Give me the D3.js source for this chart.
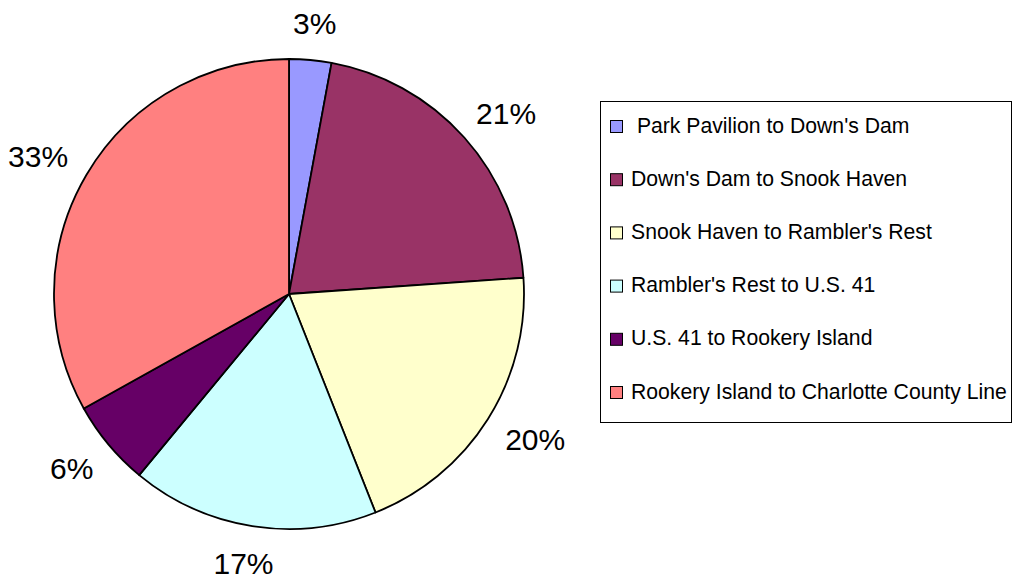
<!DOCTYPE html>
<html>
<head>
<meta charset="utf-8">
<script src="https://cdn.jsdelivr.net/npm/d3@7"></script>
<style>
  html, body { margin: 0; padding: 0; background: #fff; }
  svg { display: block; }
  text { font-family: "Liberation Sans", Arial, sans-serif; fill: #000; }
</style>
</head>
<body>
<svg id="chart" width="1013" height="579"></svg>
<script>
const categories = [
  " Park Pavilion to Down's Dam",
  "Down's Dam to Snook Haven",
  "Snook Haven to Rambler's Rest",
  "Rambler's Rest to U.S. 41",
  "U.S. 41 to Rookery Island",
  "Rookery Island to Charlotte County Line"
];
const values = [2.9, 21.0, 20.1, 17.0, 5.9, 33.1];
const colors = ["#9999FF", "#993366", "#FFFFCC", "#CCFFFF", "#660066", "#FF8080"];

const svg = d3.select("#chart");
const cx = 289, cy = 294, r = 235;
const total = d3.sum(values);

const pie = d3.pie().sort(null).value(d => d)(values);
const arc = d3.arc().innerRadius(0).outerRadius(r);

const g = svg.append("g").attr("transform", `translate(${cx},${cy})`);
g.selectAll("path.slice").data(pie).join("path")
  .attr("class", "slice")
  .attr("d", arc)
  .attr("fill", (d, i) => colors[i])
  .attr("stroke", "#000")
  .attr("stroke-width", 1.8)
  .attr("stroke-linejoin", "round");

// percentage labels
const fmt = d3.format(".0%");
const d0 = 26;
pie.forEach((d, i) => {
  const a = (d.startAngle + d.endAngle) / 2;
  const s = Math.sin(a), c = Math.cos(a);
  const t = g.append("text")
    .attr("font-size", 30)
    .attr("text-anchor", "middle")
    .text(fmt(d.data / total));
  const w = t.node().getComputedTextLength();
  const h = 22;
  const x = (r + d0 + w / 2) * s;
  const y = -(r + d0 + h / 2) * c;
  t.attr("x", x).attr("y", y + h / 2);
});

// legend
const lg = svg.append("g");
lg.append("rect")
  .attr("x", 600.5).attr("y", 101.5)
  .attr("width", 411).attr("height", 321)
  .attr("fill", "#fff").attr("stroke", "#000").attr("stroke-width", 1);

const rowY = d3.scalePoint().domain(d3.range(categories.length)).range([126.5, 392.5]);
const items = lg.selectAll("g.item").data(categories).join("g").attr("class", "item");
items.append("rect")
  .attr("x", 610.5).attr("y", (d, i) => rowY(i) - 6)
  .attr("width", 12).attr("height", 12)
  .attr("fill", (d, i) => colors[i])
  .attr("stroke", "#000").attr("stroke-width", 1);
items.append("text")
  .attr("x", 631).attr("y", (d, i) => rowY(i) + 6)
  .attr("font-size", 21.2)
  .attr("xml:space", "preserve")
  .style("white-space", "pre")
  .text(d => d);
</script>
</body>
</html>
